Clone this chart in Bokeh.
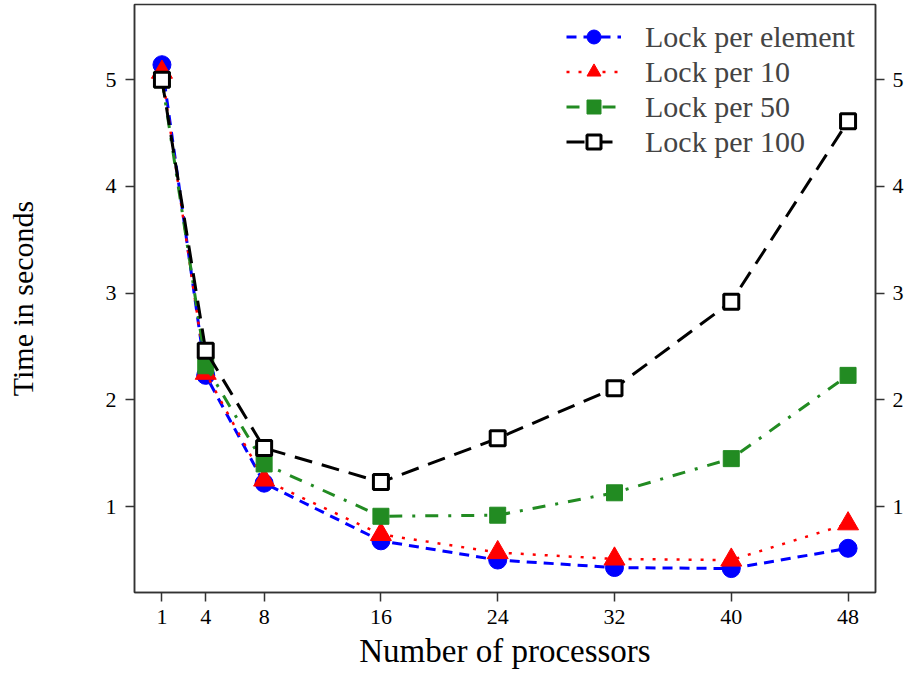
from bokeh.plotting import figure
from bokeh.models import LinearAxis, Range1d, FixedTicker
from bokeh.embed import file_html
from bokeh.resources import INLINE

processors = [1, 4, 8, 16, 24, 32, 40, 48]
lock_element = [5.14, 2.23, 1.22, 0.68, 0.50, 0.43, 0.42, 0.61]
lock_10 = [5.07, 2.25, 1.25, 0.74, 0.57, 0.51, 0.50, 0.84]
lock_50 = [5.00, 2.32, 1.40, 0.91, 0.92, 1.13, 1.45, 2.23]
lock_100 = [5.00, 2.46, 1.55, 1.23, 1.64, 2.11, 2.92, 4.61]
y_ticks = [1, 2, 3, 4, 5]

FONT = "Liberation Serif"

p = figure(width=912, height=676, output_backend="svg", toolbar_location=None,
           x_range=Range1d(-0.88, 49.88), y_range=Range1d(0.196, 5.704),
           min_border_left=134, min_border_right=37, min_border_top=4, min_border_bottom=84)
p.grid.visible = False
p.outline_line_color = "#333333"
p.outline_line_width = 1.5
p.background_fill_color = "white"

p.line(processors, lock_element, color="blue", line_width=3, line_dash="10 7", legend_label="Lock per element")
p.scatter(processors, lock_element, marker="circle", size=18, color="blue", legend_label="Lock per element")

p.line(processors, lock_10, color="red", line_width=2.5, line_dash="3 9", legend_label="Lock per 10")
p.scatter(processors, lock_10, marker="triangle", size=21, color="red", legend_label="Lock per 10")

p.line(processors, lock_50, color="#228B22", line_width=3, line_dash="13 10 3 10", legend_label="Lock per 50")
p.scatter(processors, lock_50, marker="square", size=16, color="#228B22", legend_label="Lock per 50")

p.line(processors, lock_100, color="black", line_width=3, line_dash="18 10", legend_label="Lock per 100")
p.scatter(processors, lock_100, marker="square", size=15, fill_color="white", line_color="black",
          line_width=3, legend_label="Lock per 100")

right = LinearAxis()
p.add_layout(right, "right")

for ax in [p.xaxis[0], p.yaxis[0], right]:
    ax.major_label_text_font = FONT
    ax.major_label_text_font_size = "22px"
    ax.major_label_text_color = "black"
    ax.axis_line_color = "#333333"
    ax.axis_line_width = 1.5
    ax.major_tick_line_color = "#333333"
    ax.major_tick_line_width = 1.5
    ax.major_tick_out = 9
    ax.major_tick_in = 0
    ax.minor_tick_line_color = None
    ax.axis_label_text_font = FONT
    ax.axis_label_text_font_style = "normal"
    ax.axis_label_text_color = "black"

p.xaxis[0].ticker = FixedTicker(ticks=processors)
p.yaxis[0].ticker = FixedTicker(ticks=y_ticks)
right.ticker = FixedTicker(ticks=y_ticks)
p.xaxis[0].axis_label = "Number of processors"
p.yaxis[0].axis_label = "Time in seconds"
p.xaxis[0].axis_label_text_font_size = "33px"
p.yaxis[0].axis_label_text_font_size = "30px"
p.xaxis[0].major_label_standoff = 8
p.yaxis[0].major_label_standoff = 9
right.major_label_standoff = 8
p.xaxis[0].axis_label_standoff = 6
p.yaxis[0].axis_label_standoff = 64

lg = p.legend[0]
lg.location = (432, 433)
lg.border_line_color = None
lg.background_fill_alpha = 0
lg.label_text_font = FONT
lg.label_text_font_size = "30px"
lg.glyph_width = 55
lg.glyph_height = 35
lg.label_height = 35
lg.spacing = 0
lg.label_standoff = 24
lg.margin = 0
lg.padding = 0

open("out.html", "w").write(file_html(p, INLINE))
